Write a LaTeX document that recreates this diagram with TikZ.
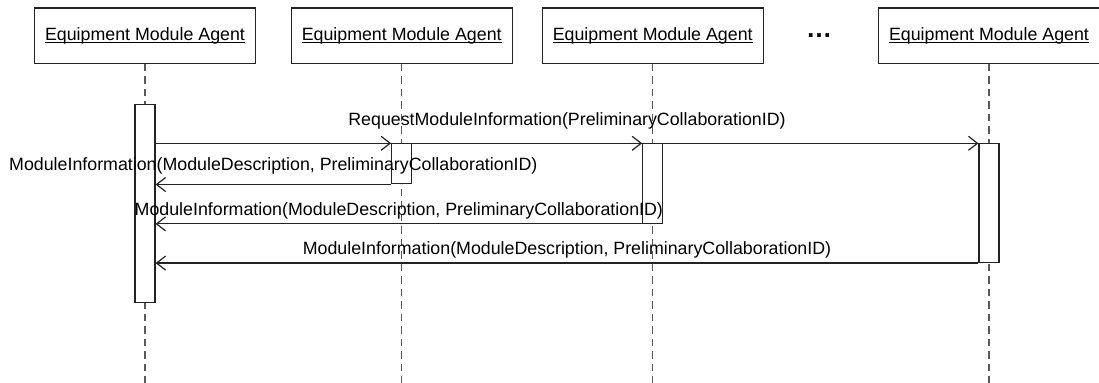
\documentclass[tikz,border=0pt]{standalone}
\usepackage{fontspec}
\setmainfont{Liberation Sans}
\usepackage{tikz}
\usetikzlibrary{arrows.meta,positioning}
\definecolor{lineclr}{RGB}{35,35,35}
\definecolor{dashclr}{RGB}{90,90,90}
\newsavebox{\namebox}
\newcommand{\agentname}{\sbox{\namebox}{Equipment Module Agent}%
  \rlap{\raisebox{-1.4pt}{\rule{\wd\namebox}{0.55pt}}}\usebox{\namebox}}

\begin{document}
\begin{tikzpicture}[
  x=0.5pt, y=-0.5pt,
  font=\fontsize{8.9}{10.5}\selectfont,
  agent/.style={draw=lineclr, line width=0.6pt, minimum width=110.5pt,
                minimum height=27.6pt, inner sep=0pt},
  bar/.style={draw=lineclr, line width=0.6pt, fill=white, anchor=north,
              minimum width=10pt, inner sep=0pt},
  lifeline/.style={draw=dashclr, line width=0.6pt, dash pattern=on 3.75pt off 2.5pt},
  msg/.style={-{Straight Barb[length=4.5pt, width=7pt]}, line width=0.6pt, color=lineclr},
  lbl/.style={midway, anchor=base, inner sep=0pt, text=black}]
  \useasboundingbox (0,0) rectangle (1099,383);
  \coordinate (bottom) at (0,384);
  % agents
  \node[agent] (ag1) at (145,35.7) {\agentname};
  \node[agent] (ag2) at (401.7,35.7) {\agentname};
  \node[agent] (ag3) at (652.7,35.7) {\agentname};
  \node[agent] (ag4) at (989,35.7) {\agentname};
  \node[font=\fontsize{13}{15}\selectfont\bfseries] (more) at (819,36) {…};
  % lifelines
  \draw[lifeline] (ag1.south) -- (ag1.south |- bottom);
  \draw[lifeline] (ag2.south) -- (ag2.south |- bottom);
  \draw[lifeline] (ag3.south) -- (ag3.south |- bottom);
  \draw[lifeline] (ag4.south) -- (ag4.south |- bottom);
  % activations
  \node[bar, minimum height=98.85pt] (act1) at (145,104) {};
  \node[bar, minimum height=20pt] (act2) at (401.7,143.3) {};
  \node[bar, minimum height=39.7pt] (act3) at (652.7,143.3) {};
  \node[bar, minimum height=59.3pt] (act4) at (989,143.3) {};
  % messages
  \draw[msg] (act4.north west -| act1.east) -- (act4.north west)
    node[lbl, yshift=8.9pt] {RequestModuleInformation(PreliminaryCollaborationID)};
  \draw[msg] (act3.north west -| act1.east) -- (act3.north west);
  \draw[msg] (act2.north west -| act1.east) -- (act2.north west);
  \draw[msg] (act2.south west) -- (act2.south west -| act1.east)
    node[lbl, yshift=6.9pt] {ModuleInformation(ModuleDescription, PreliminaryCollaborationID)};
  \draw[msg] (act3.south west) -- (act3.south west -| act1.east)
    node[lbl, yshift=4.1pt] {ModuleInformation(ModuleDescription, PreliminaryCollaborationID)};
  \draw[msg] (act4.south west) -- (act4.south west -| act1.east)
    node[lbl, yshift=4.5pt] {ModuleInformation(ModuleDescription, PreliminaryCollaborationID)};
\end{tikzpicture}
\end{document}
